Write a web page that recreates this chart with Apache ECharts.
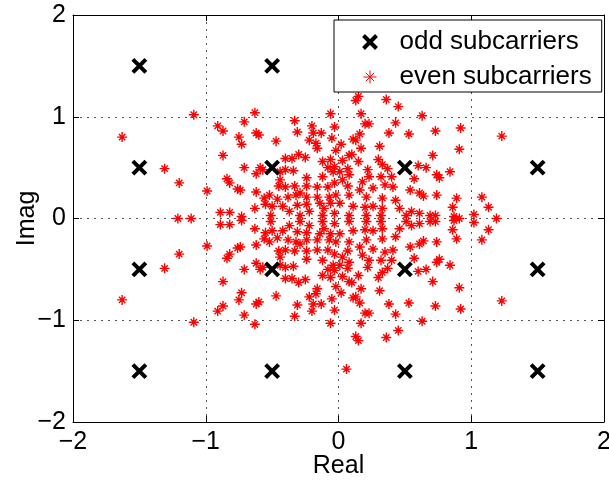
<!DOCTYPE html>
<html><head><meta charset="utf-8">
<script src="https://cdn.jsdelivr.net/npm/echarts@6/dist/echarts.min.js"></script>
<style>html,body{margin:0;padding:0;background:#fff}#c{width:609px;height:482px}</style>
</head><body><div id="c"></div>
<script>
const ticks = [-2, -1, 0, 1, 2];
const tickLabels = ['\u22122', '\u22121', '0', '1', '2'];
const seriesNames = ['odd subcarriers', 'even subcarriers'];
const axisNames = ['Real', 'Imag'];

const oddPoints = [
  [-1.5,1.5],[-0.5,1.5],[0.5,1.5],[1.5,1.5],
  [-1.5,0.5],[-0.5,0.5],[0.5,0.5],[1.5,0.5],
  [-1.5,-0.5],[-0.5,-0.5],[0.5,-0.5],[1.5,-0.5],
  [-1.5,-1.5],[-0.5,-1.5],[0.5,-1.5],[1.5,-1.5]
];

const evenUpper = [
[-1.09,1.02],[-1.63,0.80],[-1.31,0.49],[-1.20,0.35],[-0.99,0.27],
[-0.63,1.04],[-0.91,0.91],[-0.71,0.95],[-0.87,0.86],[-0.75,0.80],[-0.62,0.84],[-0.60,0.82],[-0.73,0.73],[-0.47,0.76],[-0.33,0.96],
[-0.31,0.85],[-0.20,0.91],[-0.19,0.84],[-0.13,0.84],[-0.22,0.77],[-0.17,0.74],[-0.16,0.69],[-0.06,1.03],[-0.03,0.90],[-0.05,0.79],
[-0.02,0.67],[-0.87,0.62],[-0.71,0.50],[-0.30,0.63],[-0.25,0.60],[-0.40,0.59],[-0.35,0.59],[-0.12,0.56],[-0.06,0.58],[-0.08,0.50],
[-0.59,0.50],[-0.57,0.48],[-0.40,0.48],[-0.34,0.47],[-0.44,0.46],[-0.62,0.44],[-0.24,0.40],[-0.12,0.41],[-0.04,0.46],[-0.84,0.39],
[-0.82,0.35],[-0.76,0.29],[-0.74,0.28],[-0.62,0.26],[-0.45,0.32],[-0.40,0.31],[-0.33,0.32],[-0.44,0.38],[-0.24,0.32],[-0.29,0.25],
[-0.16,0.31],[-0.08,0.31],[-0.03,0.35],[-0.56,0.20],[-0.52,0.23],[-0.46,0.19],[-0.38,0.21],[-0.32,0.23],[-0.24,0.21],[-0.16,0.21],
[-0.07,0.21],[-0.02,0.23],[-0.50,0.12],[-0.63,0.10],[-0.55,0.14],[-0.42,0.12],[-0.31,0.13],[-0.24,0.14],[-0.22,0.07],[-0.14,0.15],
[-0.11,0.10],[-0.06,0.15],[-0.89,0.06],[-0.82,0.06],[-0.73,0.02],[-0.51,0.03],[-0.29,0.03],[-0.12,0.03],[-0.37,0.07],
[0.15,1.20],[0.13,1.16],[0.36,1.17],[0.45,1.10],[0.17,1.03],[0.63,1.01],[0.20,0.93],[0.23,0.93],[0.43,0.94],[0.38,0.84],
[0.53,0.83],[0.73,0.86],[0.92,0.89],[0.16,0.83],[0.13,0.77],[0.11,0.78],[0.02,0.73],[0.17,0.69],[0.31,0.71],[0.10,0.63],
[0.08,0.62],[0.91,0.68],[0.71,0.62],[0.03,0.57],[0.15,0.56],[0.30,0.58],[0.33,0.53],[0.60,0.52],[0.66,0.50],[0.84,0.46],
[-0.03,0.51],[0.07,0.49],[0.01,0.46],[0.22,0.48],[0.37,0.49],[0.08,0.43],[0.23,0.41],[0.32,0.41],[0.40,0.41],[0.57,0.39],
[0.74,0.43],[0.76,0.40],[0.03,0.38],[0.18,0.36],[0.35,0.33],[0.41,0.31],[0.07,0.32],[0.16,0.28],[0.26,0.30],[0.54,0.28],
[0.61,0.25],[0.64,0.22],[0.74,0.23],[0.89,0.20],[0.08,0.23],[0.21,0.21],[0.33,0.20],[0.43,0.18],[0.01,0.15],[0.11,0.12],
[0.20,0.11],[0.26,0.12],[0.33,0.10],[0.46,0.10],[0.55,0.07],[0.61,0.05],[0.86,0.11],[-0.03,0.05],[0.08,0.03],[0.21,0.03],
[0.32,0.03],[0.51,0.03],[0.73,0.03],
[1.23,0.81],[1.08,0.21],[1.13,0.11],[1.02,0.04],[0.87,0.02],[0.69,0.03]
];

const evenLower = [
[-1.09,-1.02],[-1.63,-0.80],[-1.31,-0.49],[-1.20,-0.35],[-0.99,-0.27],
[-0.63,-1.04],[-0.91,-0.91],[-0.71,-0.95],[-0.87,-0.86],[-0.75,-0.80],[-0.62,-0.84],[-0.60,-0.82],[-0.73,-0.73],[-0.47,-0.76],[-0.33,-0.96],
[-0.31,-0.85],[-0.20,-0.91],[-0.19,-0.84],[-0.13,-0.84],[-0.22,-0.77],[-0.17,-0.74],[-0.16,-0.69],[-0.06,-1.03],[-0.03,-0.90],[-0.05,-0.79],
[-0.02,-0.67],[-0.87,-0.62],[-0.71,-0.50],[-0.30,-0.63],[-0.25,-0.60],[-0.40,-0.59],[-0.35,-0.59],[-0.12,-0.56],[-0.06,-0.58],[-0.08,-0.50],
[-0.59,-0.50],[-0.57,-0.48],[-0.40,-0.48],[-0.34,-0.47],[-0.44,-0.46],[-0.62,-0.44],[-0.24,-0.40],[-0.12,-0.41],[-0.04,-0.46],[-0.84,-0.39],
[-0.82,-0.35],[-0.76,-0.29],[-0.74,-0.28],[-0.62,-0.26],[-0.45,-0.32],[-0.40,-0.31],[-0.33,-0.32],[-0.44,-0.38],[-0.24,-0.32],[-0.29,-0.25],
[-0.16,-0.31],[-0.08,-0.31],[-0.03,-0.35],[-0.56,-0.20],[-0.52,-0.23],[-0.46,-0.19],[-0.38,-0.21],[-0.32,-0.23],[-0.24,-0.21],[-0.16,-0.21],
[-0.07,-0.21],[-0.02,-0.23],[-0.50,-0.12],[-0.63,-0.10],[-0.55,-0.14],[-0.42,-0.12],[-0.31,-0.13],[-0.24,-0.14],[-0.22,-0.07],[-0.14,-0.15],
[-0.11,-0.10],[-0.06,-0.15],[-0.89,-0.06],[-0.82,-0.06],[-0.73,-0.02],[-0.51,-0.03],[-0.29,-0.03],[-0.12,-0.03],[-0.37,-0.07],
[0.15,-1.20],[0.13,-1.16],[0.36,-1.17],[0.45,-1.10],[0.17,-1.03],[0.63,-1.01],[0.20,-0.93],[0.23,-0.93],[0.43,-0.94],[0.38,-0.84],
[0.53,-0.83],[0.73,-0.86],[0.92,-0.89],[0.16,-0.83],[0.13,-0.77],[0.11,-0.78],[0.02,-0.73],[0.17,-0.69],[0.31,-0.71],[0.10,-0.63],
[0.08,-0.62],[0.91,-0.68],[0.71,-0.62],[0.03,-0.57],[0.15,-0.56],[0.30,-0.58],[0.33,-0.53],[0.60,-0.52],[0.66,-0.50],[0.84,-0.46],
[-0.03,-0.51],[0.07,-0.49],[0.01,-0.46],[0.22,-0.48],[0.37,-0.49],[0.08,-0.43],[0.23,-0.41],[0.32,-0.41],[0.40,-0.41],[0.57,-0.39],
[0.74,-0.43],[0.76,-0.40],[0.03,-0.38],[0.18,-0.36],[0.35,-0.33],[0.41,-0.31],[0.07,-0.32],[0.16,-0.28],[0.26,-0.30],[0.54,-0.28],
[0.61,-0.25],[0.64,-0.22],[0.74,-0.23],[0.89,-0.20],[0.08,-0.23],[0.21,-0.21],[0.33,-0.20],[0.43,-0.18],[0.01,-0.15],[0.11,-0.12],
[0.20,-0.11],[0.26,-0.12],[0.33,-0.10],[0.46,-0.10],[0.55,-0.07],[0.61,-0.05],[0.86,-0.11],[-0.03,-0.05],[0.08,-0.03],[0.21,-0.03],
[0.32,-0.03],[0.51,-0.03],[0.73,-0.03],
[1.23,-0.81],[1.08,-0.21],[1.13,-0.11],[1.02,-0.04],[0.87,-0.02],[0.69,-0.03],
[0.06,-1.48]
];

const evenAxis = [[-1.21,0],[-1.11,0],[1.19,0],[0.91,0]];

const evenPoints = evenUpper.concat(evenAxis, evenLower);

const FONT = '"Liberation Sans", Arial, Helvetica, sans-serif';
const STAR = 'path://M5,0L5,10M0,5L10,5M1.8,1.8L8.2,8.2M8.2,1.8L1.8,8.2';
const CROSS = 'path://M0,0L10,10M10,0L0,10';
const fmt = v => { const i = ticks.indexOf(v); return i >= 0 ? tickLabels[i] : ''; };

const baseAxis = {
  type: 'value', min: ticks[0], max: ticks[ticks.length - 1], interval: 1,
  axisLine: { show: true, onZero: false, lineStyle: { color: '#000', width: 1 } },
  axisTick: { show: true, inside: true, length: 6, lineStyle: { color: '#000', width: 1 } },
};

const chart = echarts.init(document.getElementById('c'), null, { renderer: 'canvas' });
chart.setOption({
  animation: false,
  backgroundColor: '#fff',
  textStyle: { fontFamily: FONT },
  grid: { left: 73, right: 5, top: 15, bottom: 60, containLabel: false, outerBoundsMode: 'none' },
  xAxis: [
    Object.assign({}, baseAxis, {
      position: 'bottom',
      axisLabel: { formatter: fmt, color: '#000', fontSize: 25, fontFamily: FONT, margin: 8 },
      splitLine: { show: true, lineStyle: { color: '#555', width: 1, type: [2, 5] } },
      name: axisNames[0], nameLocation: 'middle', nameGap: 32, nameMoveOverlap: false,
      nameTextStyle: { color: '#000', fontSize: 25, fontFamily: FONT }
    }),
    Object.assign({}, baseAxis, {
      position: 'top', axisLabel: { show: false }, splitLine: { show: false }
    })
  ],
  yAxis: [
    Object.assign({}, baseAxis, {
      position: 'left',
      axisLabel: { formatter: fmt, color: '#000', fontSize: 25, fontFamily: FONT, margin: 7 },
      splitLine: { show: true, lineStyle: { color: '#555', width: 1, type: [2, 5] } },
      name: axisNames[1], nameLocation: 'middle', nameGap: 33, nameMoveOverlap: false,
      nameTextStyle: { color: '#000', fontSize: 25, fontFamily: FONT }
    }),
    Object.assign({}, baseAxis, {
      position: 'right', axisLabel: { show: false }, splitLine: { show: false }
    })
  ],
  legend: {
    orient: 'vertical', left: 334, top: 20,
    backgroundColor: '#fff', borderColor: '#000', borderWidth: 1,
    padding: [9, 10, 2, 27], itemGap: 9,
    itemWidth: 13, itemHeight: 13,
    textStyle: { color: '#000', fontSize: 26, fontFamily: FONT, lineHeight: 26, padding: [0, 0, 0, 18] },
    data: [
      { name: seriesNames[0], icon: CROSS, itemStyle: { color: 'none', borderColor: '#000', borderWidth: 4, opacity: 1 } },
      { name: seriesNames[1], icon: STAR, itemStyle: { color: 'none', borderColor: '#ff0000', borderWidth: 1, opacity: 1 } }
    ]
  },
  series: [
    {
      name: seriesNames[1], type: 'scatter', data: evenPoints, z: 2,
      symbol: STAR, symbolSize: 10,
      itemStyle: { color: 'none', borderColor: '#ff0000', borderWidth: 1.4, opacity: 1 },
      emphasis: { disabled: true }
    },
    {
      name: seriesNames[0], type: 'scatter', data: oddPoints, z: 3,
      symbol: CROSS, symbolSize: 13,
      itemStyle: { color: 'none', borderColor: '#000', borderWidth: 4, opacity: 1 },
      emphasis: { disabled: true }
    }
  ]
});
</script>
</body></html>
